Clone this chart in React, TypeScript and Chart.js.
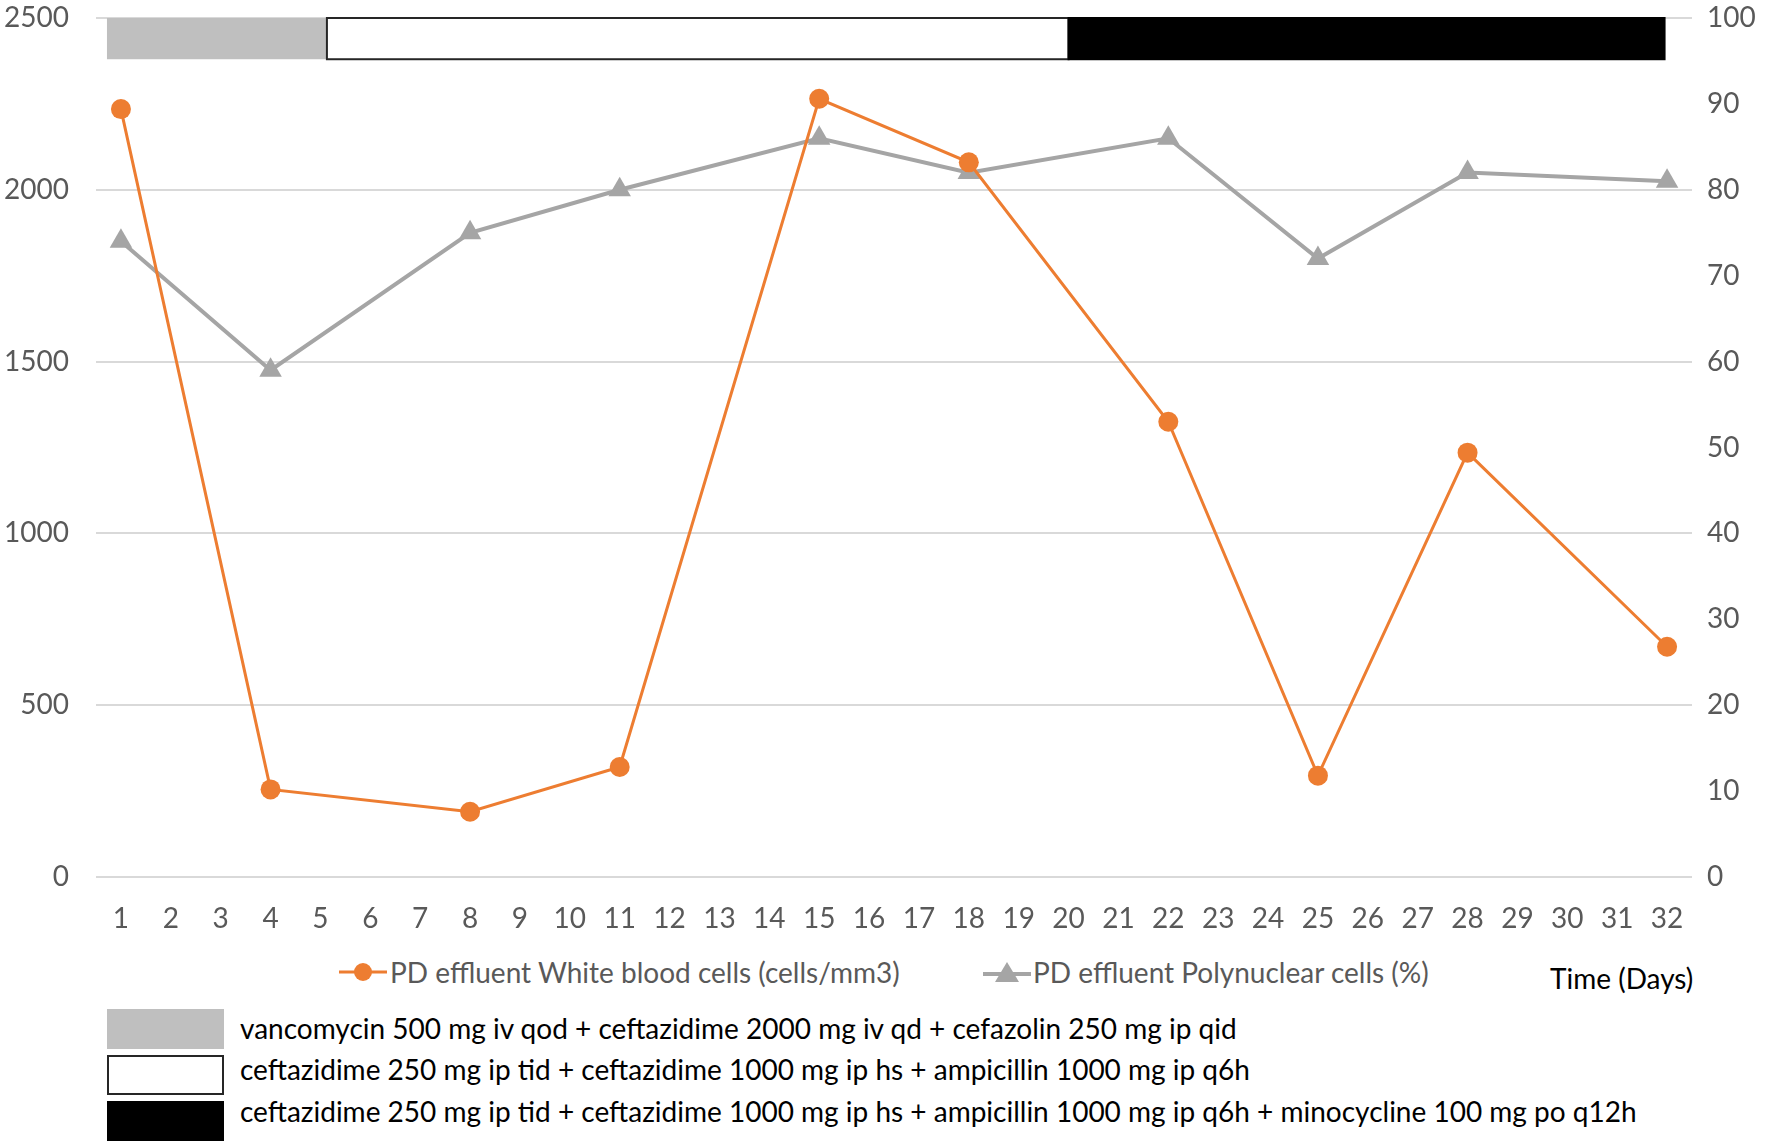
import React, { useEffect, useRef } from 'react';
import Chart from 'chart.js/auto';

// Chart data
const DAY_TICKS = [1, 2, 3, 4, 5, 6, 7, 8, 9, 10, 11, 12, 13, 14, 15, 16, 17, 18, 19, 20, 21, 22, 23, 24, 25, 26, 27, 28, 29, 30, 31, 32];
const SAMPLE_DAYS = [1, 4, 8, 11, 15, 18, 22, 25, 28, 32];
const WBC_VALUES = [2235, 255, 190, 320, 2265, 2080, 1325, 295, 1235, 670];
const PMN_VALUES = [74, 59, 75, 80, 86, 82, 86, 72, 82, 81];
const LEFT_TICKS = [0, 500, 1000, 1500, 2000, 2500];
const RIGHT_TICKS = [0, 10, 20, 30, 40, 50, 60, 70, 80, 90, 100];

// Treatment periods (in days) shown as the band at the top of the plot
const PERIOD_START = [0.72, 5.13, 20];
const PERIOD_END = [5.13, 20, 31.95];
const PERIOD_BAND = [2380, 2500];
const PERIOD_LABELS = [
  'vancomycin 500 mg iv qod + ceftazidime 2000 mg iv qd + cefazolin 250 mg ip qid',
  'ceftazidime 250 mg ip tid + ceftazidime 1000 mg ip hs + ampicillin 1000 mg ip q6h',
  'ceftazidime 250 mg ip tid + ceftazidime 1000 mg ip hs + ampicillin 1000 mg ip q6h + minocycline 100 mg po q12h',
];

const SERIES_LABELS = ['PD effluent White blood cells (cells/mm3)', 'PD effluent Polynuclear cells (%)'];

const ORANGE = '#ED7D31';
const GRAY = '#A5A5A5';
const PERIOD_FILL = ['#BFBFBF', '#FFFFFF', '#000000'];
const PERIOD_BORDER = [null, '#262626', '#000000'];
const FONT = 'Lato, "Open Sans", sans-serif';
const TEXT_GRAY = '#595959';
const FONT_SIZE = 28;

// Draws the treatment band with the chart's own scales
const periodBandPlugin = {
  id: 'periodBand',
  beforeDatasetsDraw(chart: any) {
    const { ctx, scales } = chart;
    const x = scales.x;
    const y = scales.y;
    const top = y.getPixelForValue(PERIOD_BAND[1]);
    const bottom = y.getPixelForValue(PERIOD_BAND[0]);
    ctx.save();
    PERIOD_START.forEach((start, i) => {
      const left = x.getPixelForValue(start);
      const right = x.getPixelForValue(PERIOD_END[i]);
      ctx.fillStyle = PERIOD_FILL[i];
      ctx.fillRect(left, top, right - left, bottom - top);
      const border = PERIOD_BORDER[i];
      if (border) {
        ctx.strokeStyle = border;
        ctx.lineWidth = 2;
        ctx.strokeRect(left, top, right - left, bottom - top);
      }
    });
    ctx.restore();
  },
};

const CircleMarker = () => (
  <svg width="48" height="22" viewBox="0 0 48 22">
    <line x1="0" y1="11" x2="48" y2="11" stroke={ORANGE} strokeWidth="3" />
    <circle cx="24" cy="11" r="9" fill={ORANGE} />
  </svg>
);

const TriangleMarker = () => (
  <svg width="48" height="22" viewBox="0 0 48 22">
    <line x1="0" y1="13" x2="48" y2="13" stroke={GRAY} strokeWidth="4" />
    <polygon points="24,1 36,21 12,21" fill={GRAY} />
  </svg>
);

const App: React.FC = () => {
  const canvasRef = useRef<HTMLCanvasElement | null>(null);

  useEffect(() => {
    if (!canvasRef.current) return;
    const ctx = canvasRef.current.getContext('2d');
    if (!ctx) return;

    const tickFont = { family: FONT, size: FONT_SIZE };

    const chart = new Chart(ctx, {
      type: 'line',
      data: {
        datasets: [
          {
            label: SERIES_LABELS[0],
            data: SAMPLE_DAYS.map((d, i) => ({ x: d, y: WBC_VALUES[i] })),
            yAxisID: 'y',
            borderColor: ORANGE,
            backgroundColor: ORANGE,
            borderWidth: 3,
            pointStyle: 'circle',
            pointRadius: 10,
            pointBackgroundColor: ORANGE,
            pointBorderWidth: 0,
            tension: 0,
          },
          {
            label: SERIES_LABELS[1],
            data: SAMPLE_DAYS.map((d, i) => ({ x: d, y: PMN_VALUES[i] })),
            yAxisID: 'y1',
            borderColor: GRAY,
            backgroundColor: GRAY,
            borderWidth: 4,
            pointStyle: 'triangle',
            pointRadius: 13,
            pointBackgroundColor: GRAY,
            pointBorderWidth: 0,
            tension: 0,
          },
        ],
      },
      options: {
        animation: false,
        responsive: true,
        maintainAspectRatio: false,
        layout: { autoPadding: false, padding: { left: 5, right: 3, top: 1, bottom: 5 } },
        plugins: {
          legend: { display: false },
          tooltip: { enabled: false },
        },
        scales: {
          x: {
            type: 'linear',
            min: 0.5,
            max: 32.5,
            afterBuildTicks: (axis: any) => {
              axis.ticks = DAY_TICKS.map((v) => ({ value: v }));
            },
            afterFit: (axis: any) => {
              axis.height = 58;
            },
            grid: { display: false },
            border: { display: false },
            ticks: {
              autoSkip: false,
              maxRotation: 0,
              padding: 17,
              color: TEXT_GRAY,
              font: tickFont,
              callback: (value: any) => String(value),
            },
          },
          y: {
            position: 'left',
            min: 0,
            max: 2500,
            afterBuildTicks: (axis: any) => {
              axis.ticks = LEFT_TICKS.map((v) => ({ value: v }));
            },
            afterFit: (axis: any) => {
              axis.width = 91;
              axis.paddingTop = 18;
              axis.paddingBottom = 18;
            },
            grid: { color: '#D9D9D9', lineWidth: 2, drawTicks: false },
            border: { display: false },
            ticks: {
              padding: 27,
              color: TEXT_GRAY,
              font: tickFont,
              callback: (value: any) => String(value),
            },
          },
          y1: {
            position: 'right',
            min: 0,
            max: 100,
            afterBuildTicks: (axis: any) => {
              axis.ticks = RIGHT_TICKS.map((v) => ({ value: v }));
            },
            afterFit: (axis: any) => {
              axis.width = 77;
              axis.paddingTop = 18;
              axis.paddingBottom = 18;
            },
            grid: { drawOnChartArea: false, drawTicks: false },
            border: { display: false },
            ticks: {
              padding: 15,
              color: TEXT_GRAY,
              font: tickFont,
              callback: (value: any) => String(value),
            },
          },
        },
      },
      plugins: [periodBandPlugin],
    });

    return () => {
      chart.destroy();
    };
  }, []);

  const periodBoxTops = [1009, 1055, 1101];
  const periodTextCenters = [1028, 1069, 1111];

  return (
    <div style={{ position: 'absolute', left: 0, top: 0, width: 1772, height: 1147, background: '#fff', fontFamily: FONT }}>
      <div style={{ position: 'absolute', left: 0, top: 0, width: 1772, height: 940 }}>
        <canvas ref={canvasRef}></canvas>
      </div>

      {/* Series legend */}
      <div style={{ position: 'absolute', left: 339, top: 955, height: 34, display: 'flex', alignItems: 'center', fontSize: FONT_SIZE, color: TEXT_GRAY, whiteSpace: 'nowrap' }}>
        <CircleMarker />
        <span style={{ marginLeft: 3 }}>{SERIES_LABELS[0]}</span>
      </div>
      <div style={{ position: 'absolute', left: 983, top: 955, height: 34, display: 'flex', alignItems: 'center', fontSize: FONT_SIZE, color: TEXT_GRAY, whiteSpace: 'nowrap' }}>
        <TriangleMarker />
        <span style={{ marginLeft: 2 }}>{SERIES_LABELS[1]}</span>
      </div>
      <div style={{ position: 'absolute', left: 1550, top: 961, height: 34, lineHeight: '34px', fontSize: FONT_SIZE, color: '#000', whiteSpace: 'nowrap' }}>
        Time (Days)
      </div>

      {/* Treatment legend */}
      {PERIOD_LABELS.map((label, i) => (
        <React.Fragment key={i}>
          <div
            style={{
              position: 'absolute',
              left: 107,
              top: periodBoxTops[i],
              width: 117,
              height: 40,
              boxSizing: 'border-box',
              background: PERIOD_FILL[i],
              border: PERIOD_BORDER[i] ? `2px solid ${PERIOD_BORDER[i]}` : 'none',
            }}
          />
          <div
            style={{
              position: 'absolute',
              left: 240,
              top: periodTextCenters[i] - 17,
              height: 34,
              lineHeight: '34px',
              fontSize: FONT_SIZE,
              color: '#000',
              whiteSpace: 'nowrap',
            }}
          >
            {label}
          </div>
        </React.Fragment>
      ))}
    </div>
  );
};

export default App;
